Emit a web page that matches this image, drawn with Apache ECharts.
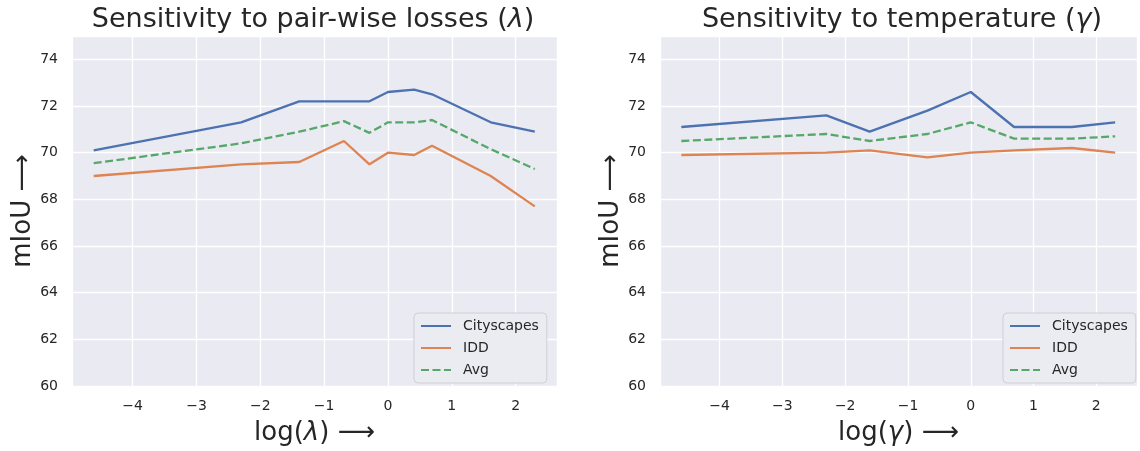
<!DOCTYPE html>
<html>
<head>
<meta charset="utf-8">
<script src="https://cdn.jsdelivr.net/npm/echarts@6/dist/echarts.min.js"></script>
<style>
  html, body { margin: 0; padding: 0; background: #fff; }
  #chart { width: 1140px; height: 451px; }
</style>
</head>
<body>
<div id="chart"></div>
<script>
// log(lambda) sweep
var lambdaX    = [-4.61, -2.30, -1.39, -0.69, -0.29, 0, 0.41, 0.69, 1.61, 2.30];
var lambdaCity = [70.1, 71.3, 72.2, 72.2, 72.2, 72.6, 72.7, 72.5, 71.3, 70.9];
var lambdaIdd  = [69.0, 69.5, 69.6, 70.5, 69.5, 70.0, 69.9, 70.3, 69.0, 67.7];
var lambdaAvg  = [69.55, 70.4, 70.9, 71.35, 70.85, 71.3, 71.3, 71.4, 70.15, 69.3];

// log(gamma) sweep
var gammaX    = [-4.61, -2.30, -1.61, -0.69, 0, 0.69, 1.61, 2.30];
var gammaCity = [71.1, 71.6, 70.9, 71.8, 72.6, 71.1, 71.1, 71.3];
var gammaIdd  = [69.9, 70.0, 70.1, 69.8, 70.0, 70.1, 70.2, 70.0];
var gammaAvg  = [70.5, 70.8, 70.5, 70.8, 71.3, 70.6, 70.6, 70.7];

var seriesNames = ['Cityscapes', 'IDD', 'Avg'];
var colors = ['#4C72B0', '#DD8452', '#55A868'];

var font = 'DejaVu Sans';
var ink = '#262626';

function pairs(xs, ys) {
  return xs.map(function (x, i) { return [x, ys[i]]; });
}

function richAt(size) {
  return {
    n: { fontFamily: font, fontSize: size, color: ink, fontWeight: 'normal' },
    i: { fontFamily: font, fontSize: size, color: ink, fontWeight: 'normal', fontStyle: 'italic' }
  };
}

function xAxisFor(idx, sym) {
  return {
    type: 'value',
    gridIndex: idx,
    min: -4.95,
    max: 2.648,
    minInterval: 1,
    maxInterval: 1,
    name: '{n|log(}{i|' + sym + '}{n|) \u27F6}',
    nameLocation: 'middle',
    nameGap: 34,
    nameTextStyle: { rich: richAt(26) },
    axisLine: { show: false },
    axisTick: { show: false },
    axisLabel: {
      margin: 13,
      fontFamily: font,
      fontSize: 14,
      color: ink,
      formatter: function (v) {
        if (!Number.isInteger(v)) return '';
        return v < 0 ? '\u2212' + Math.abs(v) : String(v);
      }
    },
    splitLine: { lineStyle: { color: '#ffffff', width: 1.3 } }
  };
}

function yAxisFor(idx) {
  return {
    type: 'value',
    gridIndex: idx,
    min: 60,
    max: 75,
    interval: 2,
    name: 'mIoU \u27F6',
    nameLocation: 'middle',
    nameRotate: 90,
    nameGap: 28,
    nameTextStyle: { fontFamily: font, fontSize: 26, color: ink },
    axisLine: { show: false },
    axisTick: { show: false },
    axisLabel: {
      margin: 14,
      fontFamily: font,
      fontSize: 14,
      color: ink,
      formatter: function (v) { return v % 2 === 0 ? String(v) : ''; }
    },
    splitLine: { lineStyle: { color: '#ffffff', width: 1.3 } }
  };
}

function lineSeries(name, idx, data, k) {
  return {
    name: name,
    type: 'line',
    xAxisIndex: idx,
    yAxisIndex: idx,
    data: data,
    symbol: 'none',
    color: colors[k],
    lineStyle: {
      color: colors[k],
      width: 2.3,
      type: k === 2 ? [8, 3.5] : 'solid'
    }
  };
}

function legendAt(left) {
  return {
    data: seriesNames,
    orient: 'vertical',
    left: left,
    top: 313,
    itemWidth: 30,
    itemHeight: 14,
    itemGap: 8,
    padding: [6, 8, 6, 6],
    backgroundColor: '#EBEBF2',
    borderColor: '#cfcfd6',
    borderWidth: 1,
    borderRadius: 4,
    selectedMode: false,
    // hide the marker dot, keep only the line sample
    itemStyle: { opacity: 0, borderWidth: 0 },
    textStyle: { fontFamily: font, fontSize: 14, color: ink, padding: [0, 0, 0, 7] }
  };
}

var option = {
  animation: false,
  backgroundColor: '#ffffff',
  title: [
    {
      text: '{n|Sensitivity to pair-wise losses (}{i|\u03BB}{n|)}',
      left: 313, top: 6, textAlign: 'center', padding: 0,
      textStyle: { fontWeight: 'normal', rich: richAt(27) }
    },
    {
      text: '{n|Sensitivity to temperature (}{i|\u03B3}{n|)}',
      left: 902, top: 6, textAlign: 'center', padding: 0,
      textStyle: { fontWeight: 'normal', rich: richAt(27) }
    }
  ],
  grid: [
    { left: 72, top: 36, width: 485, height: 354, show: true, backgroundColor: '#EAEAF2', borderWidth: 0 },
    { left: 660, top: 36, width: 484, height: 354, show: true, backgroundColor: '#EAEAF2', borderWidth: 0 }
  ],
  legend: [legendAt(414), legendAt(1003)],
  xAxis: [xAxisFor(0, '\u03BB'), xAxisFor(1, '\u03B3')],
  yAxis: [yAxisFor(0), yAxisFor(1)],
  series: [
    lineSeries('Cityscapes', 0, pairs(lambdaX, lambdaCity), 0),
    lineSeries('IDD', 0, pairs(lambdaX, lambdaIdd), 1),
    lineSeries('Avg', 0, pairs(lambdaX, lambdaAvg), 2),
    lineSeries('Cityscapes', 1, pairs(gammaX, gammaCity), 0),
    lineSeries('IDD', 1, pairs(gammaX, gammaIdd), 1),
    lineSeries('Avg', 1, pairs(gammaX, gammaAvg), 2)
  ]
};

var chart = echarts.init(document.getElementById('chart'), null, { renderer: 'canvas' });
chart.setOption(option);
</script>
</body>
</html>
